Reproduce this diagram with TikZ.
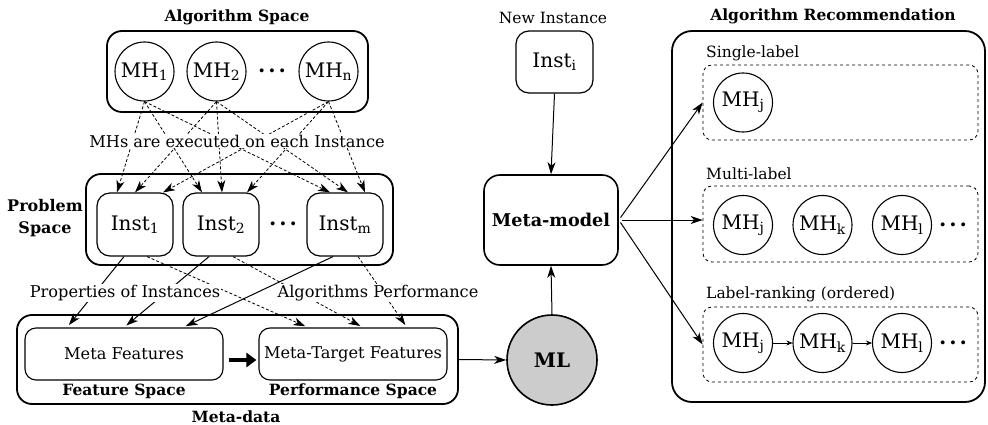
\documentclass[tikz,border=0pt]{standalone}
\usepackage{fontspec}
\setmainfont{DejaVu Serif}
\usetikzlibrary{arrows.meta,calc}
\newcommand\fbig{\fontsize{20}{24}\selectfont}
\newcommand\fmid{\fontsize{16.2}{19}\selectfont}
\newcommand\fsmall{\fontsize{15.5}{18}\selectfont}
\newcommand\ftitle{\fontsize{15.5}{18}\selectfont\bfseries}
\newcommand\mydots{{\fontsize{21}{24}\selectfont\bfseries .\hspace{3pt}.\hspace{3pt}.}}
\begin{document}
\begin{tikzpicture}[x=1pt,y=-1pt,
  >={Stealth[length=12pt,width=8pt,inset=3.5pt]},
  outer/.style={draw,line width=1.8pt,rounded corners=15pt,inner sep=0pt},
  instbox/.style={draw,line width=1.2pt,rounded corners=13pt,minimum width=76pt,minimum height=63pt,inner sep=0pt,font=\fbig},
  mhc/.style={draw,circle,line width=1.1pt,minimum size=59pt,inner sep=0pt,font=\fbig},
  dbox/.style={draw,dashed,line width=0.8pt,rounded corners=9pt,minimum width=275pt,inner sep=0pt},
  featbox/.style={draw,line width=1.1pt,rounded corners=11pt,minimum height=52pt,inner sep=0pt,font=\fmid},
  lbl/.style={fill=white,inner sep=1pt,font=\fmid},
  ttl/.style={inner sep=0pt,font=\ftitle},
  smalltxt/.style={inner sep=0pt,font=\fsmall},
  dotst/.style={inner sep=0pt},
  conn/.style={->,line width=1pt},
  dconn/.style={->,line width=0.8pt,dash pattern=on 3pt off 2pt},
]
\useasboundingbox (0,0) rectangle (988,425);

% ---- Algorithm space
\node[ttl] (tas) at (237,17) {Algorithm Space};
\node[outer,minimum width=261pt,minimum height=81pt] (as) at (237.5,71.5) {};
\node[mhc] (mh1) at (144.5,71.5) {MH\textsubscript{1}};
\node[mhc] (mh2) at (216.5,71.5) {MH\textsubscript{2}};
\node[mhc] (mhn) at (328.5,71.5) {MH\textsubscript{n}};
\node[dotst] (d1) at (272,71) {\mydots};

% ---- Problem space
\node[outer,minimum width=307pt,minimum height=91pt] (ps) at (239.5,219.5) {};
\node[ttl,align=center,font=\fontsize{16}{22}\selectfont\bfseries] (tps) at (45,218) {Problem\\Space};
\node[instbox] (i1) at (135,224.5) {Inst\textsubscript{1}};
\node[instbox] (i2) at (221,224.5) {Inst\textsubscript{2}};
\node[instbox] (im) at (345,224.5) {Inst\textsubscript{m}};
\node[dotst] (d2) at (283,224) {\mydots};

% ---- dashed MH -> Inst
\draw[dconn] (mh1.south) -- ([xshift=-18pt]i1.north);
\draw[dconn] (mh2.south) -- ([xshift=0pt]i1.north);
\draw[dconn] (mhn.south) -- ([xshift=28pt]i1.north);
\draw[dconn] (mh1.south) -- ([xshift=-19pt]i2.north);
\draw[dconn] (mh2.south) -- ([xshift=1pt]i2.north);
\draw[dconn] (mhn.south) -- ([xshift=26pt]i2.north);
\draw[dconn] (mh1.south) -- ([xshift=-15pt]im.north);
\draw[dconn] (mh2.south) -- ([xshift=3pt]im.north);
\draw[dconn] (mhn.south) -- ([xshift=20pt]im.north);
\node[lbl] (lexe) at (237,141) {MHs are executed on each Instance};

% ---- Meta-data
\node[outer,minimum width=441pt,minimum height=89pt] (md) at (237.5,359.5) {};
\node[featbox,minimum width=198pt] (mf) at (124,354) {Meta Features};
\node[featbox,minimum width=188pt] (mt) at (353,354) {Meta-Target Features};
\node[ttl] (tfs) at (124,391) {Feature Space};
\node[ttl] (tpf) at (353,391) {Performance Space};
\node[ttl] (tmd) at (236,417) {Meta-data};
\draw[line width=4.5pt,-{Triangle[length=10pt,width=14pt]},shorten <=5pt,shorten >=2pt]
  ([yshift=-6pt]mf.east) -- ([yshift=-6pt]mt.west);

% ---- Inst -> meta-data
\draw[conn,shorten >=3pt] ([xshift=-11pt]i1.south) -- ([xshift=-57pt]mf.north);
\draw[conn,shorten >=3pt] ([xshift=-12pt]i2.south) -- ([xshift=0pt]mf.north);
\draw[conn,shorten >=3pt] ([xshift=-12pt]im.south) -- ([xshift=59pt]mf.north);
\draw[dconn,shorten >=3pt] ([xshift=12pt]i1.south) -- ([xshift=-45pt]mt.north);
\draw[dconn,shorten >=3pt] ([xshift=12pt]i2.south) -- ([xshift=10pt]mt.north);
\draw[dconn,shorten >=3pt] ([xshift=13pt]im.south) -- ([xshift=54pt]mt.north);
\node[lbl] (lprop) at (125,293) {Properties of Instances};
\node[lbl] (lperf) at (378,293) {Algorithms Performance};

% ---- middle column
\node[smalltxt] (tni) at (553,18) {New Instance};
\node[instbox,minimum width=77pt,minimum height=62pt] (ii) at (554.5,62) {Inst\textsubscript{i}};
\node[draw,line width=1.6pt,rounded corners=16pt,minimum width=134pt,minimum height=90pt,font=\fontsize{17.6}{21}\selectfont\bfseries] (mm) at (551,220) {Meta-model};
\node[draw,circle,line width=1.6pt,fill=black!20,minimum size=90pt,inner sep=0pt,font=\fbig\bfseries] (ml) at (552,360) {ML};
\draw[conn] (ii.south) -- (mm.north);
\draw[conn] (ml.north) -- (mm.south);
\draw[conn] (md.east) -- (ml.west);

% ---- Algorithm recommendation
\node[ttl] (tar) at (833,16) {Algorithm Recommendation};
\node[outer,rounded corners=20pt,minimum width=313pt,minimum height=371pt] (ar) at (828.5,216.5) {};
\node[smalltxt,anchor=west] (tsl) at (706,53) {Single-label};
\node[dbox,minimum height=75pt] (sl) at (840.5,102.5) {};
\node[mhc] (sj) at (743,102.5) {MH\textsubscript{j}};
\node[smalltxt,anchor=west] (tml) at (706,174) {Multi-label};
\node[dbox,minimum height=76pt] (mlb) at (840.5,224) {};
\node[mhc] (mj) at (743,225) {MH\textsubscript{j}};
\node[mhc] (mk) at (822.5,225) {MH\textsubscript{k}};
\node[mhc] (mll) at (902,225) {MH\textsubscript{l}};
\node[dotst] (d3) at (953,225) {\mydots};
\node[smalltxt,anchor=west] (tlr) at (706,294) {Label-ranking (ordered)};
\node[dbox,minimum height=75pt] (lr) at (840.5,344.5) {};
\node[mhc] (rj) at (743,343) {MH\textsubscript{j}};
\node[mhc] (rk) at (822.5,343) {MH\textsubscript{k}};
\node[mhc] (rl) at (902,343) {MH\textsubscript{l}};
\node[dotst] (d4) at (953,343) {\mydots};
\draw[->,line width=0.8pt,>={Stealth[length=6pt,width=5pt,inset=2pt]}] (rj.east) -- (rk.west);
\draw[->,line width=0.8pt,>={Stealth[length=6pt,width=5pt,inset=2pt]}] (rk.east) -- (rl.west);

\draw[conn,shorten <=3pt] (mm.east) -- (sl.west);
\draw[conn,shorten <=3pt] (mm.east) -- (mlb.west |- mm.east);
\draw[conn,shorten <=3pt] (mm.east) -- (lr.west);
\end{tikzpicture}
\end{document}
